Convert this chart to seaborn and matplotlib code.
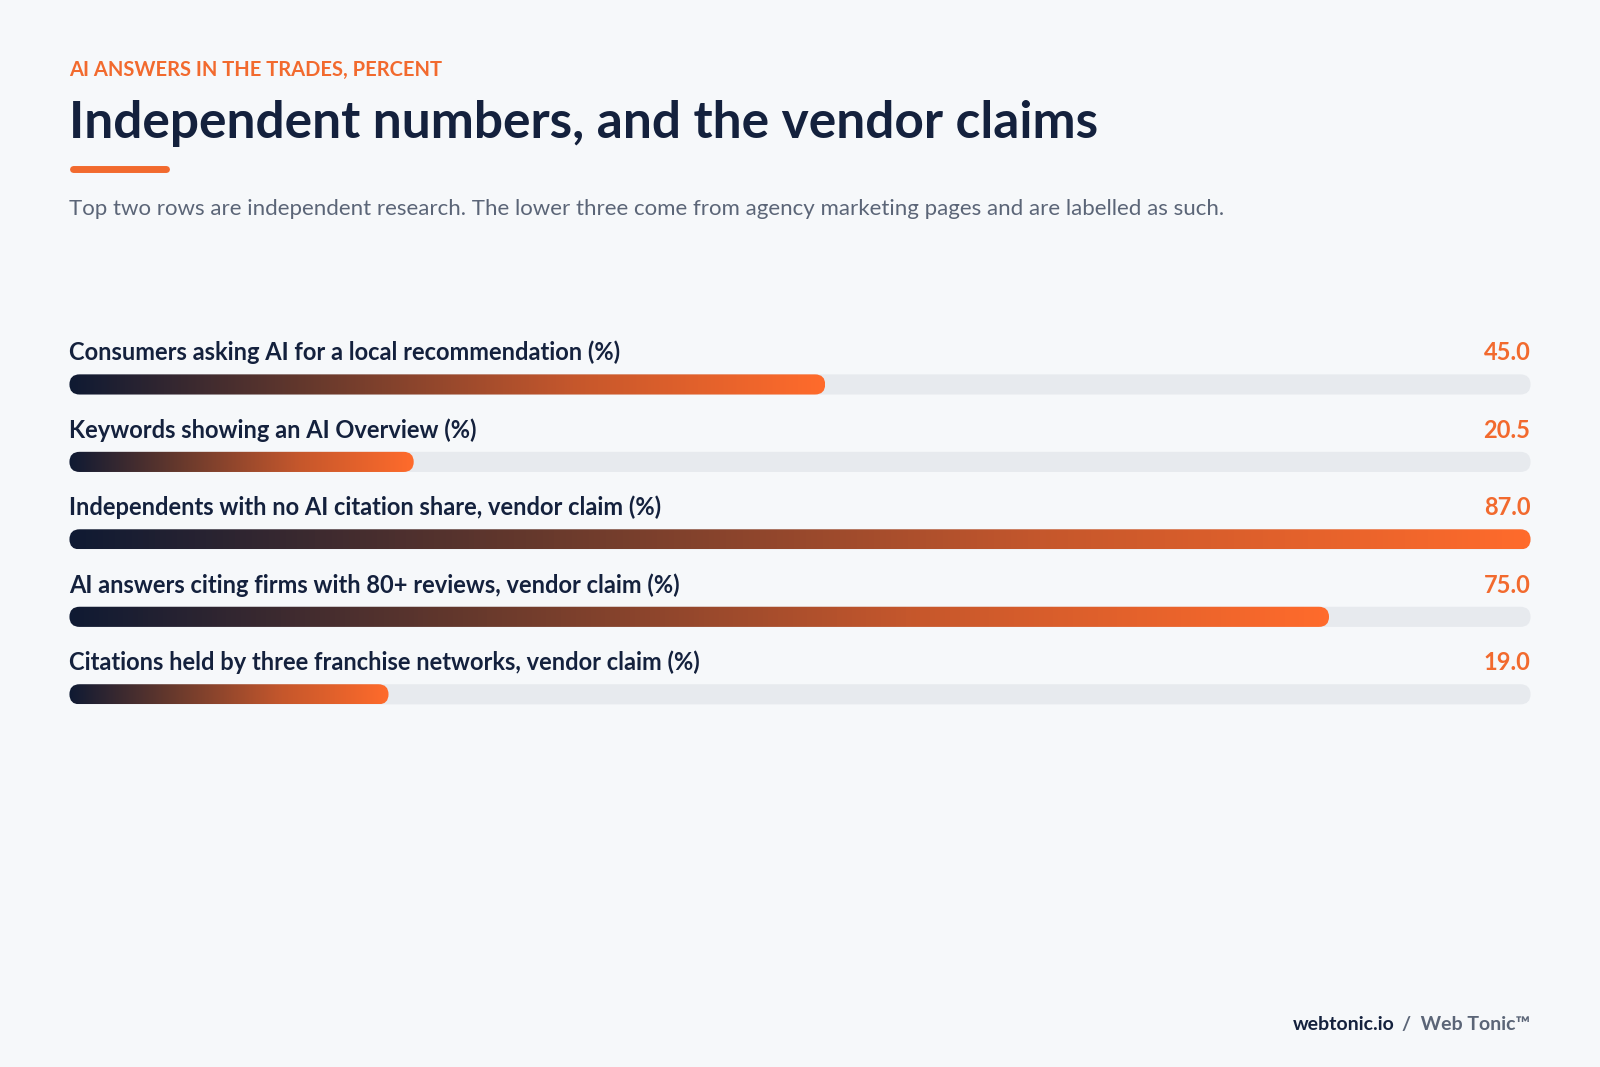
import numpy as np
import pandas as pd
import matplotlib
matplotlib.use("Agg")
import matplotlib.pyplot as plt
import seaborn as sns
from matplotlib.patches import FancyBboxPatch
from matplotlib.colors import LinearSegmentedColormap

labels = ["Consumers asking AI for a local recommendation (%)",
          "Keywords showing an AI Overview (%)",
          "Independents with no AI citation share, vendor claim (%)",
          "AI answers citing firms with 80+ reviews, vendor claim (%)",
          "Citations held by three franchise networks, vendor claim (%)"]
values = [45.0, 20.5, 87.0, 75.0, 19.0]
vmax = 87.0

BG = "#f6f8fa"; NAVY = "#14213d"; ORANGE = "#f26a2e"; TRACK = "#e7eaee"; GRAY = "#5b6577"
sns.set_theme(style="white")
plt.rcParams['font.family'] = ['Lato', 'DejaVu Sans']

fig = plt.figure(figsize=(16, 10.67), dpi=100, facecolor=BG)
ax = fig.add_axes([0.0434, 0.313, 0.9132, 0.363])
ax.set_facecolor(BG)
df = pd.DataFrame({"label": labels, "value": values, "track": [vmax]*len(values)})
sns.barplot(data=df, x="track", y="label", orient="h", width=0.26, color=TRACK, ax=ax)
sns.barplot(data=df, x="value", y="label", orient="h", width=0.26, color=ORANGE, ax=ax)
ax.set_xlim(0, vmax); ax.set_ylim(4.5, -0.5)
ax.axis("off")

fig.canvas.draw()
pxx = ax.bbox.width / vmax
pxy = ax.bbox.height / 5
r_px = 10.2
asp = (1/pxy)/(1/pxx)
cmap = LinearSegmentedColormap.from_list("g", ["#0f1a33", "#6a3a2c", "#c5572c", "#ff6b2b"])
n = len(values)
patches = list(ax.patches)
for k, p in enumerate(patches):
    x0, y0, w, h = p.get_x(), p.get_y(), p.get_width(), p.get_height()
    p.set_visible(False)
    fb = FancyBboxPatch((x0, y0), w, h, boxstyle=f"round,pad=0,rounding_size={r_px/pxx}",
                        mutation_aspect=asp, linewidth=0, facecolor=TRACK)
    ax.add_patch(fb)
    if k >= n:
        fb.set_facecolor("none")
        grad = np.linspace(0, 1, 256).reshape(1, -1)
        im = ax.imshow(grad, extent=(x0, x0 + w, y0 + h, y0), cmap=cmap, aspect="auto", zorder=3)
        im.set_clip_path(fb)
ax.set_xlim(0, vmax); ax.set_ylim(4.5, -0.5)

for i, (lab, v) in enumerate(zip(labels, values)):
    ax.text(0, i - 0.41, lab, fontsize=17, fontweight="bold", color=NAVY, va="center", ha="left")
    ax.text(vmax, i - 0.41, f"{v:.1f}", fontsize=17, fontweight="bold", color=ORANGE, va="center", ha="right")

fig.text(0.0434, 1 - 69/1046, "AI ANSWERS IN THE TRADES, PERCENT", fontsize=14.5, fontweight="bold",
         color=ORANGE, va="center", ha="left")
for t in fig.texts[-1:]:
    t.set_fontproperties(t.get_fontproperties()); 
fig.texts[-1].set_text("A I   A N S W E R S   I N   T H E   T R A D E S ,   P E R C E N T".replace("   ", "\u2002").replace(" ", "\u200a") if False else "AI ANSWERS IN THE TRADES, PERCENT")
fig.texts[-1].set_fontstretch("expanded")
fig.text(0.0434, 1 - 121/1046, "Independent numbers, and the vendor claims", fontsize=37, fontweight="bold",
         color=NAVY, va="center", ha="left")
fig.add_artist(plt.Line2D([0.0434 + 0.002, 0.1035], [1 - 166/1046]*2, color=ORANGE, lw=5,
                          solid_capstyle="round", transform=fig.transFigure))
fig.text(0.0434, 1 - 205/1046, "Top two rows are independent research. The lower three come from agency marketing pages and are labelled as such.",
         fontsize=16, color=GRAY, va="center", ha="left")
fig.text(0.8, 1 - 1004/1046, "webtonic.io", fontsize=14, fontweight="bold", color=NAVY, va="center", ha="left")
fig.text(0.9566, 1 - 1004/1046, "/  Web Tonic™", fontsize=14, fontweight="bold", color=GRAY, va="center", ha="right")
# place webtonic.io right before slash
fig.canvas.draw()
r = fig.texts[-1].get_window_extent()
fig.texts[-2].set_position(((r.x0 - 8) / fig.bbox.width, 1 - 1004/1046))
fig.texts[-2].set_ha("right")
fig.savefig("out.png", dpi=100, facecolor=BG)
